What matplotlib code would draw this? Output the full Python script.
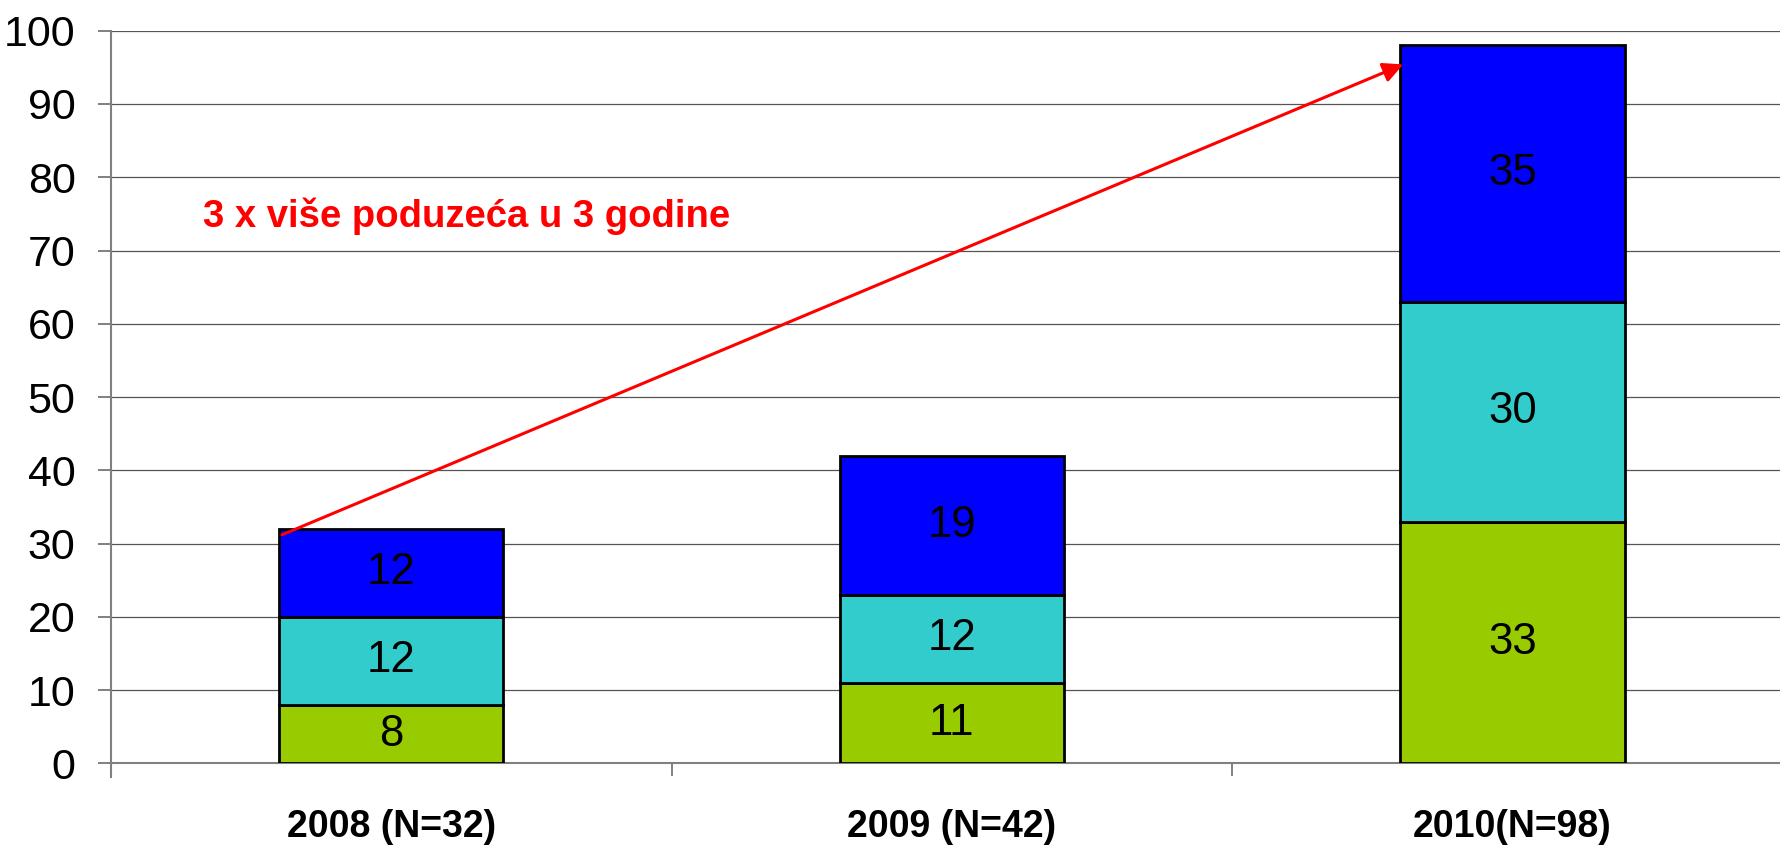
import matplotlib
matplotlib.use('Agg')
import matplotlib.pyplot as plt
import numpy as np

plt.rcParams['font.family'] = ['Liberation Sans', 'DejaVu Sans']

# Data
years = ['2008 (N=32)', '2009 (N=42)', '2010(N=98)']
green_vals = [8, 11, 33]
cyan_vals = [12, 12, 30]
blue_vals = [12, 19, 35]
series = [green_vals, cyan_vals, blue_vals]
colors = ['#99CC00', '#33CCCC', '#0000FF']
note = '3 x više poduzeća u 3 godine'

fig = plt.figure(figsize=(17.81, 8.51), dpi=100)
ax = fig.add_axes([0.0623, 0.1029, 0.9377, 0.861])

x = np.arange(len(years))
bottom = np.zeros(len(years))
for vals, col in zip(series, colors):
    bars = ax.bar(x, vals, width=0.4, bottom=bottom, color=col,
                  edgecolor='black', linewidth=2.0, zorder=3)
    for b, v, b0 in zip(bars, vals, bottom):
        ax.text(b.get_x() + b.get_width() / 2, b0 + v / 2, str(v),
                ha='center', va='center', fontsize=31.5, color='black', zorder=4)
    bottom += np.array(vals)

ax.set_ylim(0, 100)
ax.set_xlim(-0.5, 2.479)
ax.set_yticks(np.arange(0, 101, 10))
ax.yaxis.grid(True, color='#555555', linewidth=0.9, zorder=0)
ax.set_axisbelow(True)

# category ticks at boundaries, labels centered
ax.set_xticks([-0.5, 0.5, 1.5])
ax.set_xticklabels([])
ax.set_xticks(x, minor=True)
ax.set_xticklabels(years, minor=True, fontsize=27, fontweight='bold')
ax.tick_params(axis='x', which='major', direction='out', length=9.5,
               color='#808080', width=1.4)
ax.tick_params(axis='x', which='minor', length=0, pad=33)
ax.tick_params(axis='y', direction='out', length=9.5, color='#808080',
               width=1.4, labelsize=31, pad=16)

for s in ['top', 'right']:
    ax.spines[s].set_visible(False)
ax.spines['left'].set_color('#808080')
ax.spines['left'].set_linewidth(1.5)
ax.spines['bottom'].set_color('#808080')
ax.spines['bottom'].set_linewidth(1.5)
ax.spines['left'].set_bounds(-1.8, 100)
ax.spines['left'].set_clip_on(False)

# red trend arrow and note
ax.annotate('', xy=(1.805, 95.4), xytext=(-0.195, 31.2),
            arrowprops=dict(arrowstyle='-|>', color='red', lw=2.2,
                            mutation_scale=30, shrinkA=0, shrinkB=0),
            zorder=5)
ax.text(-0.335, 73.2, note, color='red', fontsize=27.5, fontweight='bold',
        ha='left', va='baseline', zorder=5)

plt.savefig('out.png', dpi=100)
